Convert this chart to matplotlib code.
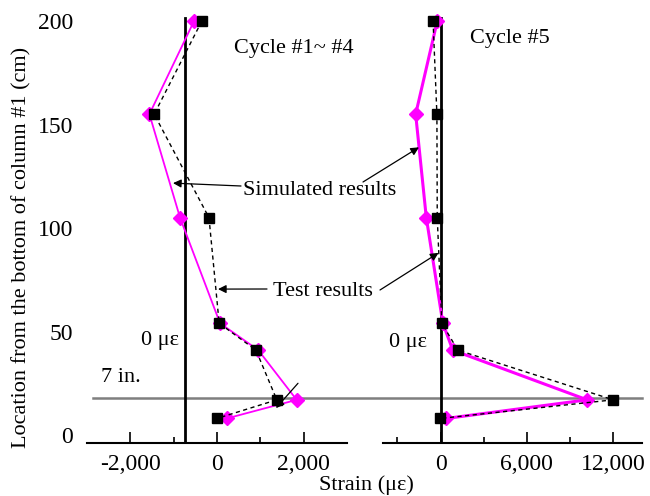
import matplotlib
matplotlib.use("Agg")
import matplotlib.pyplot as plt

plt.rcParams['font.family'] = ['Liberation Serif', 'DejaVu Serif']
plt.rcParams['mathtext.fontset'] = 'stix'

# Data (location in cm, strain in microstrain)
locations = [200, 155, 105, 54, 41, 17, 8]
test_c14 = [-350, -1450, -185, 50, 900, 1380, 0]
sim_c14 = [-530, -1560, -853, 70, 953, 1838, 224]
test_c5 = [-520, -254, -230, 90, 1200, 12000, -20]
sim_c5 = [-230, -1730, -990, 160, 850, 10190, 390]

zero_line_c14 = -750
zero_line_c5 = 0
line_7in = 17.78

left_xticks = [-2000, 0, 2000]
left_xlabels = ['-2,000', '0', '2,000']
right_xticks = [0, 6000, 12000]
right_xlabels = ['0', '6,000', '12,000']
yticks = [0, 50, 100, 150, 200]

W, H = 650, 496
fig = plt.figure(figsize=(W/100, H/100), dpi=100)

ylim = (-4, 202)
bot_px, top_px = 443.3, 16.9
axb = (H - bot_px) / H
axh = (bot_px - top_px) / H
axL = fig.add_axes([87/W, axb, 260/W, axh])
axR = fig.add_axes([383/W, axb, 259/W, axh])

for ax in (axL, axR):
    ax.set_ylim(*ylim)
    for s in ('top', 'right', 'left'):
        ax.spines[s].set_visible(False)
    ax.spines['bottom'].set_linewidth(1.5)
    ax.tick_params(axis='x', direction='in', length=8, width=1.2, labelsize=17, pad=8)
    ax.tick_params(axis='x', which='minor', direction='in', length=4, width=1.2)
    ax.tick_params(axis='y', length=0, labelsize=17, pad=10)
    ax.set_facecolor('none')

axL.set_xlim(-3000, 3000)
axL.set_xticks(left_xticks)
axL.set_xticklabels(left_xlabels)
axL.set_xticks([-1000, 1000], minor=True)
axL.set_yticks(yticks)

axR.set_xlim(-4000, 14000)
axR.set_xticks(right_xticks)
axR.set_xticklabels(right_xlabels)
axR.set_xticks([-3000, 3000, 9000], minor=True)
axR.set_yticks([])

# zero lines
axL.axvline(zero_line_c14, ymin=0, ymax=(201.5 - ylim[0]) / (ylim[1] - ylim[0]), color='k', lw=2)
axR.axvline(zero_line_c5, ymin=0, ymax=(201.5 - ylim[0]) / (ylim[1] - ylim[0]), color='k', lw=2)

# 7 in. line spanning both panels
axL.axhline(line_7in, xmin=6/260, xmax=(642-87)/260, color='#7f7f7f', lw=1.8, clip_on=False, zorder=1)

# series
axL.plot(sim_c14, locations, color='#ff00ff', lw=1.3, marker='D', ms=7, zorder=3, clip_on=False)
axL.plot(test_c14, locations, color='k', lw=1.0, ls=(0, (3, 2.5)), marker='s', ms=7, zorder=4, clip_on=False)
axR.plot(sim_c5, locations, color='#ff00ff', lw=2.2, marker='D', ms=7, zorder=3, clip_on=False)
axR.plot(test_c5, locations, color='k', lw=1.0, ls=(0, (3, 2.5)), marker='s', ms=7, zorder=4, clip_on=False)

def fp(x, y):
    return (x, H - y)

tfs = 16
fig.text(294/W, 1 - 49/H, 'Cycle #1~ #4', ha='center', va='center', fontsize=tfs)
fig.text(510/W, 1 - 39/H, 'Cycle #5', ha='center', va='center', fontsize=tfs)
fig.text(160/W, 1 - 340/H, '0 με', ha='center', va='center', fontsize=tfs)
fig.text(408/W, 1 - 343/H, '0 με', ha='center', va='center', fontsize=tfs)
fig.text(121/W, 1 - 378/H, '7 in.', ha='center', va='center', fontsize=tfs)
fig.text(320/W, 1 - 191/H, 'Simulated results', ha='center', va='center', fontsize=tfs)
fig.text(323/W, 1 - 291/H, 'Test results', ha='center', va='center', fontsize=tfs)

fig.text(366/W, 1 - 485/H, 'Strain (με)', ha='center', va='center', fontsize=16)
fig.text(22/W, 1 - 247/H, 'Location from the bottom of column #1 (cm)', ha='center', va='center',
         rotation=90, fontsize=16)

ap = dict(arrowstyle='-|>', color='k', lw=0.9, mutation_scale=12, shrinkA=0, shrinkB=0)
axL.annotate('', xy=(-1015, 121.7), xycoords='data', xytext=fp(241, 186), textcoords='figure pixels', arrowprops=ap)
axR.annotate('', xy=(-1500, 139), xycoords='data', xytext=fp(363, 182), textcoords='figure pixels', arrowprops=ap)
axL.annotate('', xy=(23, 70.5), xycoords='data', xytext=fp(267, 289), textcoords='figure pixels', arrowprops=ap)
axR.annotate('', xy=(-140, 88), xycoords='data', xytext=fp(380, 290), textcoords='figure pixels', arrowprops=ap)
axL.annotate('', xy=(1361, 13), xycoords='data', xytext=(1869, 25), textcoords='data', arrowprops=ap)

fig.savefig('out.png', dpi=100)
